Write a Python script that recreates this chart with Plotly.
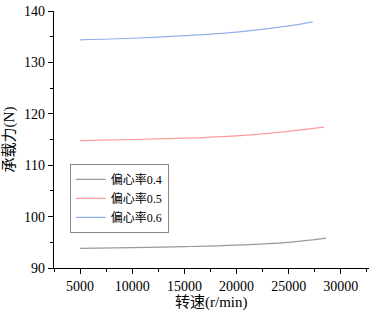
import plotly.graph_objects as go

speed_04 = [5000, 10000, 15000, 20000, 25000, 28600]
load_04 = [93.8, 93.95, 94.15, 94.45, 95.0, 95.8]
speed_05 = [5000, 10000, 15000, 20000, 25000, 28400]
load_05 = [114.8, 115.0, 115.25, 115.7, 116.6, 117.4]
speed_06 = [5000, 10000, 15000, 20000, 25000, 27300]
load_06 = [134.4, 134.7, 135.2, 135.9, 137.1, 137.9]
names = ["偏心率0.4", "偏心率0.5", "偏心率0.6"]
colors = ["#9a9a9a", "#ff9a9a", "#8fb0ee"]
x_ticks = [5000, 10000, 15000, 20000, 25000, 30000]
y_ticks = [90, 100, 110, 120, 130, 140]

FONT = "Liberation Serif, Times New Roman, Noto Sans CJK SC, serif"

fig = go.Figure()
for xs, ys, n, c in zip([speed_04, speed_05, speed_06], [load_04, load_05, load_06], names, colors):
    fig.add_trace(go.Scatter(x=xs, y=ys, mode="lines", name=n, line=dict(color=c, width=1.2, shape="spline")))

axis_common = dict(
    showline=True, linecolor="black", linewidth=1.2, mirror=False,
    ticks="outside", ticklen=5, tickwidth=1.2, tickcolor="black",
    showgrid=False, zeroline=False, automargin=False,
    tickfont=dict(family=FONT, size=14, color="black"),
)
fig.update_layout(
    width=373, height=312,
    margin=dict(l=54, r=4, t=11, b=44),
    paper_bgcolor="white", plot_bgcolor="white",
    font=dict(family=FONT, size=13, color="black"),
    xaxis=dict(range=[2500, 32700], tickvals=x_ticks, ticktext=[str(v) for v in x_ticks],
               minor=dict(ticks="outside", ticklen=3, tickwidth=1, tickcolor="black", dtick=2500, tick0=0),
               **axis_common),
    yaxis=dict(range=[90, 140], tickvals=y_ticks, ticktext=[str(v) for v in y_ticks],
               minor=dict(ticks="outside", ticklen=3, tickwidth=1, tickcolor="black", dtick=5, tick0=0),
               **axis_common),
    legend=dict(x=0.05, y=0.405, xanchor="left", yanchor="top",
                bordercolor="#888888", borderwidth=1, bgcolor="white",
                font=dict(family=FONT, size=12), tracegroupgap=0, itemwidth=30),
    showlegend=True,
    annotations=[
        dict(text="转速(r/min)", xref="paper", yref="paper", x=0.5, y=-0.135, xanchor="center",
             yanchor="middle", showarrow=False, font=dict(family=FONT, size=15)),
        dict(text="承载力(N)", xref="paper", yref="paper", x=-0.14, y=0.5, xanchor="center",
             yanchor="middle", showarrow=False, textangle=-90, font=dict(family=FONT, size=15)),
    ],
)
fig.write_html("out.html", config={"displayModeBar": False},
               post_script="document.body.style.margin='0';document.body.style.overflow='hidden';")
